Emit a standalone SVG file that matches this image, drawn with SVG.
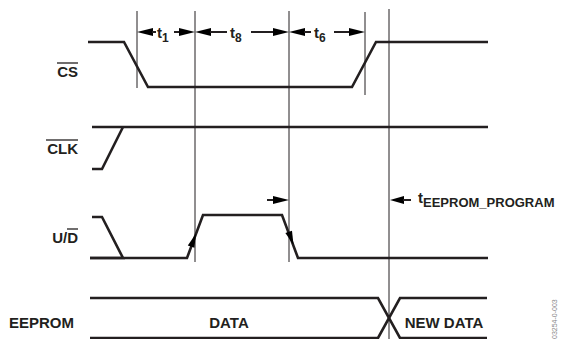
<svg xmlns="http://www.w3.org/2000/svg" width="561" height="339" viewBox="0 0 561 339">
<style>
.sig{fill:none;stroke:#231f20;stroke-width:2.6;stroke-linejoin:miter}
.tl{fill:none;stroke:#231f20;stroke-width:1}
.al{fill:none;stroke:#231f20;stroke-width:2}
.ah{fill:#000}
.lb{font-family:"Liberation Sans",Arial,sans-serif;font-weight:bold;font-size:15px;fill:#231f20}
.sb{font-size:12px}
.ov{stroke:#231f20;stroke-width:1.3}
</style>
<rect width="561" height="339" fill="#fff"/>
<g id="timing-lines">
<line class="tl" x1="137" y1="11" x2="137" y2="88"/>
<line class="tl" x1="195" y1="11" x2="195" y2="262"/>
<line class="tl" x1="289" y1="11" x2="289" y2="262"/>
<line class="tl" x1="365" y1="12" x2="365" y2="95"/>
<line class="tl" x1="389" y1="9" x2="389" y2="339"/>
</g>
<g id="cs">
<polyline class="sig" points="88,42 124,42 148,87 352,87 376,42 488,42"/>
<text class="lb" x="78" y="77" text-anchor="end">CS</text>
<line class="ov" x1="57" y1="63" x2="78" y2="63"/>
</g>
<g id="clk">
<polyline class="sig" points="92,169 102,169 123,127"/>
<line class="sig" x1="92" y1="127" x2="488" y2="127"/>
<text class="lb" x="78" y="154" text-anchor="end">CLK</text>
<line class="ov" x1="46" y1="140" x2="78" y2="140"/>
</g>
<g id="ud">
<polyline class="sig" points="92,217 102,217 123,258 90,258"/>
<polyline class="sig" points="90,258 187,258 203,215 282,215 298,258 488,258"/>
<text class="lb" x="78" y="243" text-anchor="end">U/D</text>
<line class="ov" x1="67" y1="229" x2="78" y2="229"/>
</g>
<g id="eeprom">
<polyline class="sig" points="90,298 378,298 400,338 487,338"/>
<polyline class="sig" points="90,338 378,338 400,298 487,298"/>
<text class="lb" x="9" y="328">EEPROM</text>
<text class="lb" x="229" y="328" text-anchor="middle">DATA</text>
<text class="lb" x="444" y="328" text-anchor="middle">NEW DATA</text>
</g>
<g id="connectors">
<polygon class="ah" points="137,32 153,28 153,36"/>
<line class="al" x1="152" y1="32" x2="156" y2="32"/>
<line class="al" x1="174" y1="32" x2="181" y2="32"/>
<polygon class="ah" points="195,32 179,28 179,36"/>
<polygon class="ah" points="195,32 211,28 211,36"/>
<line class="al" x1="210" y1="32" x2="227" y2="32"/>
<line class="al" x1="251" y1="32" x2="274" y2="32"/>
<polygon class="ah" points="289,32 273,28 273,36"/>
<polygon class="ah" points="289,32 305,28 305,36"/>
<line class="al" x1="304" y1="32" x2="311" y2="32"/>
<line class="al" x1="334" y1="32" x2="350" y2="32"/>
<polygon class="ah" points="365,32 349,28 349,36"/>
<line class="al" x1="267" y1="200" x2="274" y2="200"/>
<polygon class="ah" points="289,200 273,196 273,204"/>
<polygon class="ah" points="390,200 404,196 404,204"/>
<line class="al" x1="403" y1="200" x2="411" y2="200"/>
<polygon class="ah" points="196,233.5 194.4,247.8 187.8,245.4"/>
<polygon class="ah" points="293.5,245 292,230.7 285.4,233.1"/>
</g>
<g id="labels">
<text class="lb" x="157" y="38">t<tspan class="sb" dy="3.5">1</tspan></text>
<text class="lb" x="230" y="38">t<tspan class="sb" dy="3.5">8</tspan></text>
<text class="lb" x="314" y="38">t<tspan class="sb" dy="3.5">6</tspan></text>
<text class="lb" x="418" y="203">t<tspan font-size="13" dy="4">EEPROM_PROGRAM</tspan></text>
</g>
<text x="557" y="339" transform="rotate(-90 557 339)" font-family="Liberation Sans,Arial,sans-serif" font-size="7" fill="#888">03254-0-003</text>
</svg>
